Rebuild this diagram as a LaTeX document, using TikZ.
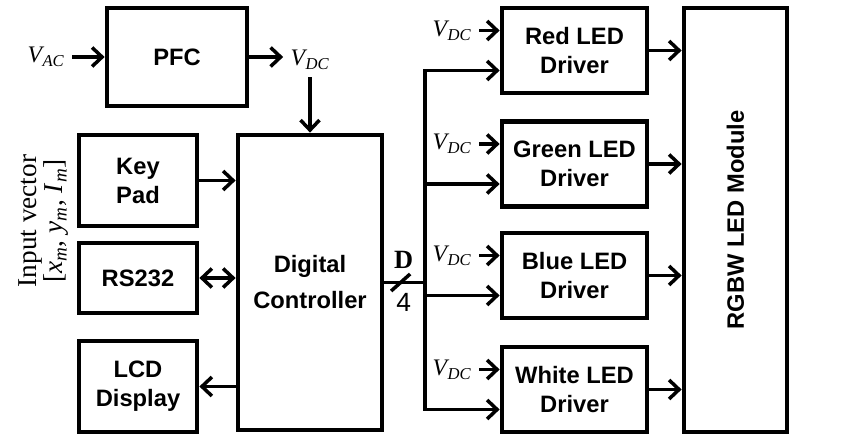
\documentclass[tikz,border=0pt]{standalone}
\usepackage{fontspec}
\setmainfont{Liberation Serif}
\newfontfamily\blkfont{Liberation Sans}
\usetikzlibrary{arrows.meta,calc}

\newcommand{\vsub}[1]{\textit{V}\kern-1pt\textsubscript{\itshape #1}}

\tikzset{
  blk/.style={draw, line width=2.7pt, inner sep=0pt, align=center,
    font=\blkfont\bfseries\fontsize{13.5}{16.5}\selectfont},
  arr/.style={line width=2pt, -{Straight Barb[length=2mm,width=3.8mm]}},
  darr/.style={arr, {Straight Barb[length=2mm,width=3.8mm]}-{Straight Barb[length=2mm,width=3.8mm]}},
  vlab/.style={inner sep=4pt, font=\fontsize{13.5}{15}\selectfont},
}

\begin{document}
\begin{tikzpicture}
\useasboundingbox (0,0) rectangle (17.26,8.72);

% Power factor correction stage
\node[blk, minimum width=2.8cm, minimum height=1.96cm] (pfc) at (3.54,7.58) {PFC};
\node[vlab, anchor=east] (vac) at (1.44,7.58) {\vsub{AC}};
\node[vlab] (vdc) at (6.2,7.52) {\vsub{DC}};
\draw[arr] (vac.east) -- (pfc.west);
\draw[arr] (pfc.east) -- (pfc.east -| vdc.west);

% Controller and user interface
\node[blk, minimum width=2.88cm, minimum height=5.9cm,
  font=\blkfont\bfseries\fontsize{13.5}{20.5}\selectfont] (dc) at (6.2,3.07) {Digital\\Controller};
\draw[arr] (vdc.south) -- (dc.north);

\node[blk, minimum width=2.36cm, minimum height=1.82cm] (keypad) at (2.76,5.11) {Key\\Pad};
\node[blk, minimum width=2.36cm, minimum height=1.4cm] (rs) at (2.76,3.16) {RS232};
\node[blk, minimum width=2.36cm, minimum height=1.82cm] (lcd) at (2.76,0.99) {LCD\\Display};
\draw[arr] (keypad.east) -- (keypad.east -| dc.west);
\draw[darr] (rs.east) -- (rs.east -| dc.west);
\draw[arr] (dc.west |- lcd.east) -- (lcd.east);

\node[rotate=90, align=center, font=\fontsize{15.5}{14}\selectfont] (invec) at (0.87,4.3)
  {Input vector\\{}[\textit{x}\textsubscript{\itshape m}, \textit{y}\textsubscript{\itshape m}, \textit{I}\textsubscript{\itshape m}]};

% LED module
\node[blk, minimum width=2.06cm, minimum height=8.48cm] (rgbw) at (14.71,4.32) {};
\node[rotate=90, font=\blkfont\bfseries\fontsize{13.5}{16}\selectfont] (rgbwtxt) at (rgbw.center) {RGBW LED Module};

% Bus to the drivers
\coordinate (bus) at (8.5,3.07);
\draw[line width=2pt] (dc.east) -- (bus);
\coordinate (sl) at ($(dc.east)!0.4!(bus)$);
\draw[line width=2pt] ([shift={(-0.19,-0.17)}]sl) -- ([shift={(0.19,0.17)}]sl);
\node[font=\fontsize{15}{15}\selectfont\bfseries] (dlab) at ([shift={(0.06,0.45)}]sl) {D};
\node[font=\blkfont\fontsize{15}{15}\selectfont] (nlab) at ([shift={(0.06,-0.4)}]sl) {4};

% LED drivers
\foreach \name/\col/\yc in {red/Red/7.71, green/Green/5.44, blue/Blue/3.21, white/White/0.93} {
  \node[blk, minimum width=2.9cm, minimum height=1.7cm] (\name) at (11.49,\yc) {\col{} LED\\Driver};
  \node[vlab, anchor=east] (v\name) at (9.58,\yc+0.4) {\vsub{DC}};
  \draw[arr] (v\name.east) -- (v\name.east -| \name.west);
  \coordinate (in\name) at ([yshift=-0.4cm]\name.west);
  \draw[arr] (bus |- in\name) -- (in\name);
  \draw[arr] (\name.east) -- (\name.east -| rgbw.west);
}
\draw[line width=2pt, line cap=rect] (bus |- inred) -- (bus |- inwhite);
\end{tikzpicture}
\end{document}
